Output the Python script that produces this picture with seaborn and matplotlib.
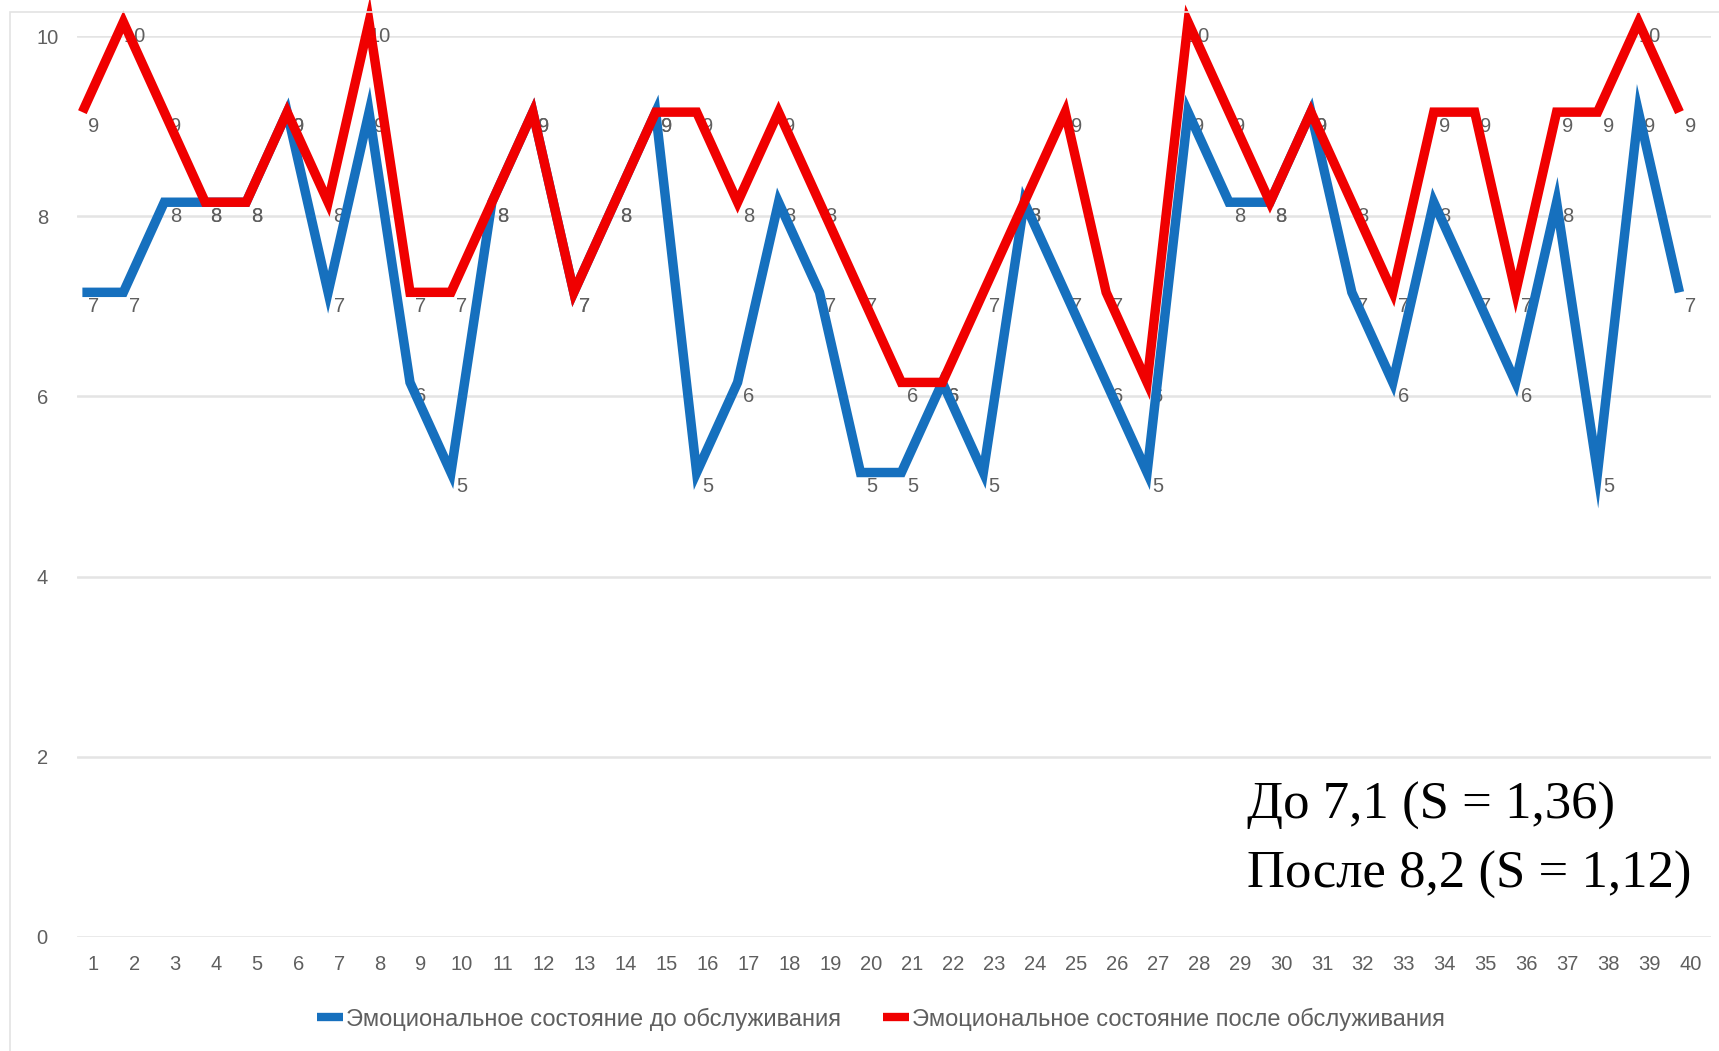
import seaborn as sns
import matplotlib.pyplot as plt
import matplotlib.transforms as mtransforms
from matplotlib.lines import Line2D
from matplotlib.patches import Rectangle
import pandas as pd

# data
clients = list(range(1, 41))
before = [7, 7, 8, 8, 8, 9, 7, 9, 6, 5,
          8, 9, 7, 8, 9, 5, 6, 8, 7, 5,
          5, 6, 5, 8, 7, 6, 5, 9, 8, 8,
          9, 7, 6, 8, 7, 6, 8, 5, 9, 7]
after = [9, 10, 9, 8, 8, 9, 8, 10, 7, 7,
         8, 9, 7, 8, 9, 9, 8, 9, 8, 7,
         6, 6, 7, 8, 9, 7, 6, 10, 9, 8,
         9, 8, 7, 9, 9, 7, 9, 9, 10, 9]
label_before = 'Эмоциональное состояние до обслуживания'
label_after = 'Эмоциональное состояние после обслуживания'
note_lines = ['До 7,1 (S = 1,36)', 'После 8,2 (S = 1,12)']

df = pd.DataFrame({'client': clients, 'before': before, 'after': after})

sns.set_theme(style='white')
plt.rcParams['font.family'] = ['Liberation Sans', 'DejaVu Sans']

blue = '#1670be'
red = '#f00000'
gray = '#5f5f5f'

fig = plt.figure(figsize=(17.19, 10.51), dpi=100)
ax = fig.add_axes([0.0448, 0.1085, 0.9505, 0.8572])

# light frame of the chart box
fig.patches.append(Rectangle((10 / 1719, -0.01), 1.0, 1 - 12 / 1051 + 0.01,
                             transform=fig.transFigure, fill=False,
                             edgecolor='#e3e3e3', linewidth=1.2, zorder=0))

sns.lineplot(data=df, x='client', y='before', color=blue, linewidth=6.8, ax=ax)
sns.lineplot(data=df, x='client', y='after', color=red, linewidth=6.8, ax=ax)

# lines in the picture sit slightly up-left of their labels
shift = mtransforms.ScaledTranslation(-0.11, 0.14, fig.dpi_scale_trans)
for ln in ax.lines:
    ln.set_transform(ax.transData + shift)
    ln.set_solid_joinstyle('miter')
    ln.set_solid_capstyle('butt')
    ln.set_clip_on(False)
    ln.set_zorder(3)

# value labels (under the lines)
for x, b, a in zip(clients, before, after):
    ax.text(x, b, str(b), ha='center', va='center', fontsize=14.5, color=gray, zorder=2)
    ax.text(x, a, str(a), ha='center', va='center', fontsize=14.5, color=gray, zorder=2)

ax.set_xlim(0.6, 40.5)
ax.set_ylim(0, 10)
ax.set_yticks([0, 2, 4, 6, 8, 10])
ax.set_xticks(clients)
ax.set_xticklabels([str(c) for c in clients])
ax.grid(axis='y', color='#e4e4e4', linewidth=1.8)
ax.grid(axis='x', visible=False)
ax.set_axisbelow(True)
for s in ax.spines.values():
    s.set_visible(False)
ax.tick_params(axis='x', length=0, pad=13, labelsize=14.5, labelcolor=gray)
ax.tick_params(axis='y', length=0, pad=29, labelsize=14.5, labelcolor=gray)
for t in ax.get_yticklabels():
    t.set_horizontalalignment('left')
ax.set_xlabel('')
ax.set_ylabel('')

handles = [Line2D([0], [0], color=blue, linewidth=6, solid_capstyle='butt'),
           Line2D([0], [0], color=red, linewidth=6, solid_capstyle='butt')]
fig.legend(handles, [label_before, label_after], loc='center',
           bbox_to_anchor=(0.5125, 1 - 1019 / 1051), ncol=2, frameon=False,
           fontsize=17, labelcolor=gray, handlelength=1.1,
           handletextpad=0.12, columnspacing=1.8)

fig.text(0.7254, 1 - 806 / 1051, note_lines[0], family='Liberation Serif',
         fontsize=38, color='black', va='center', ha='left')
fig.text(0.7254, 1 - 875 / 1051, note_lines[1], family='Liberation Serif',
         fontsize=38, color='black', va='center', ha='left')

fig.savefig('out.png', dpi=100)
